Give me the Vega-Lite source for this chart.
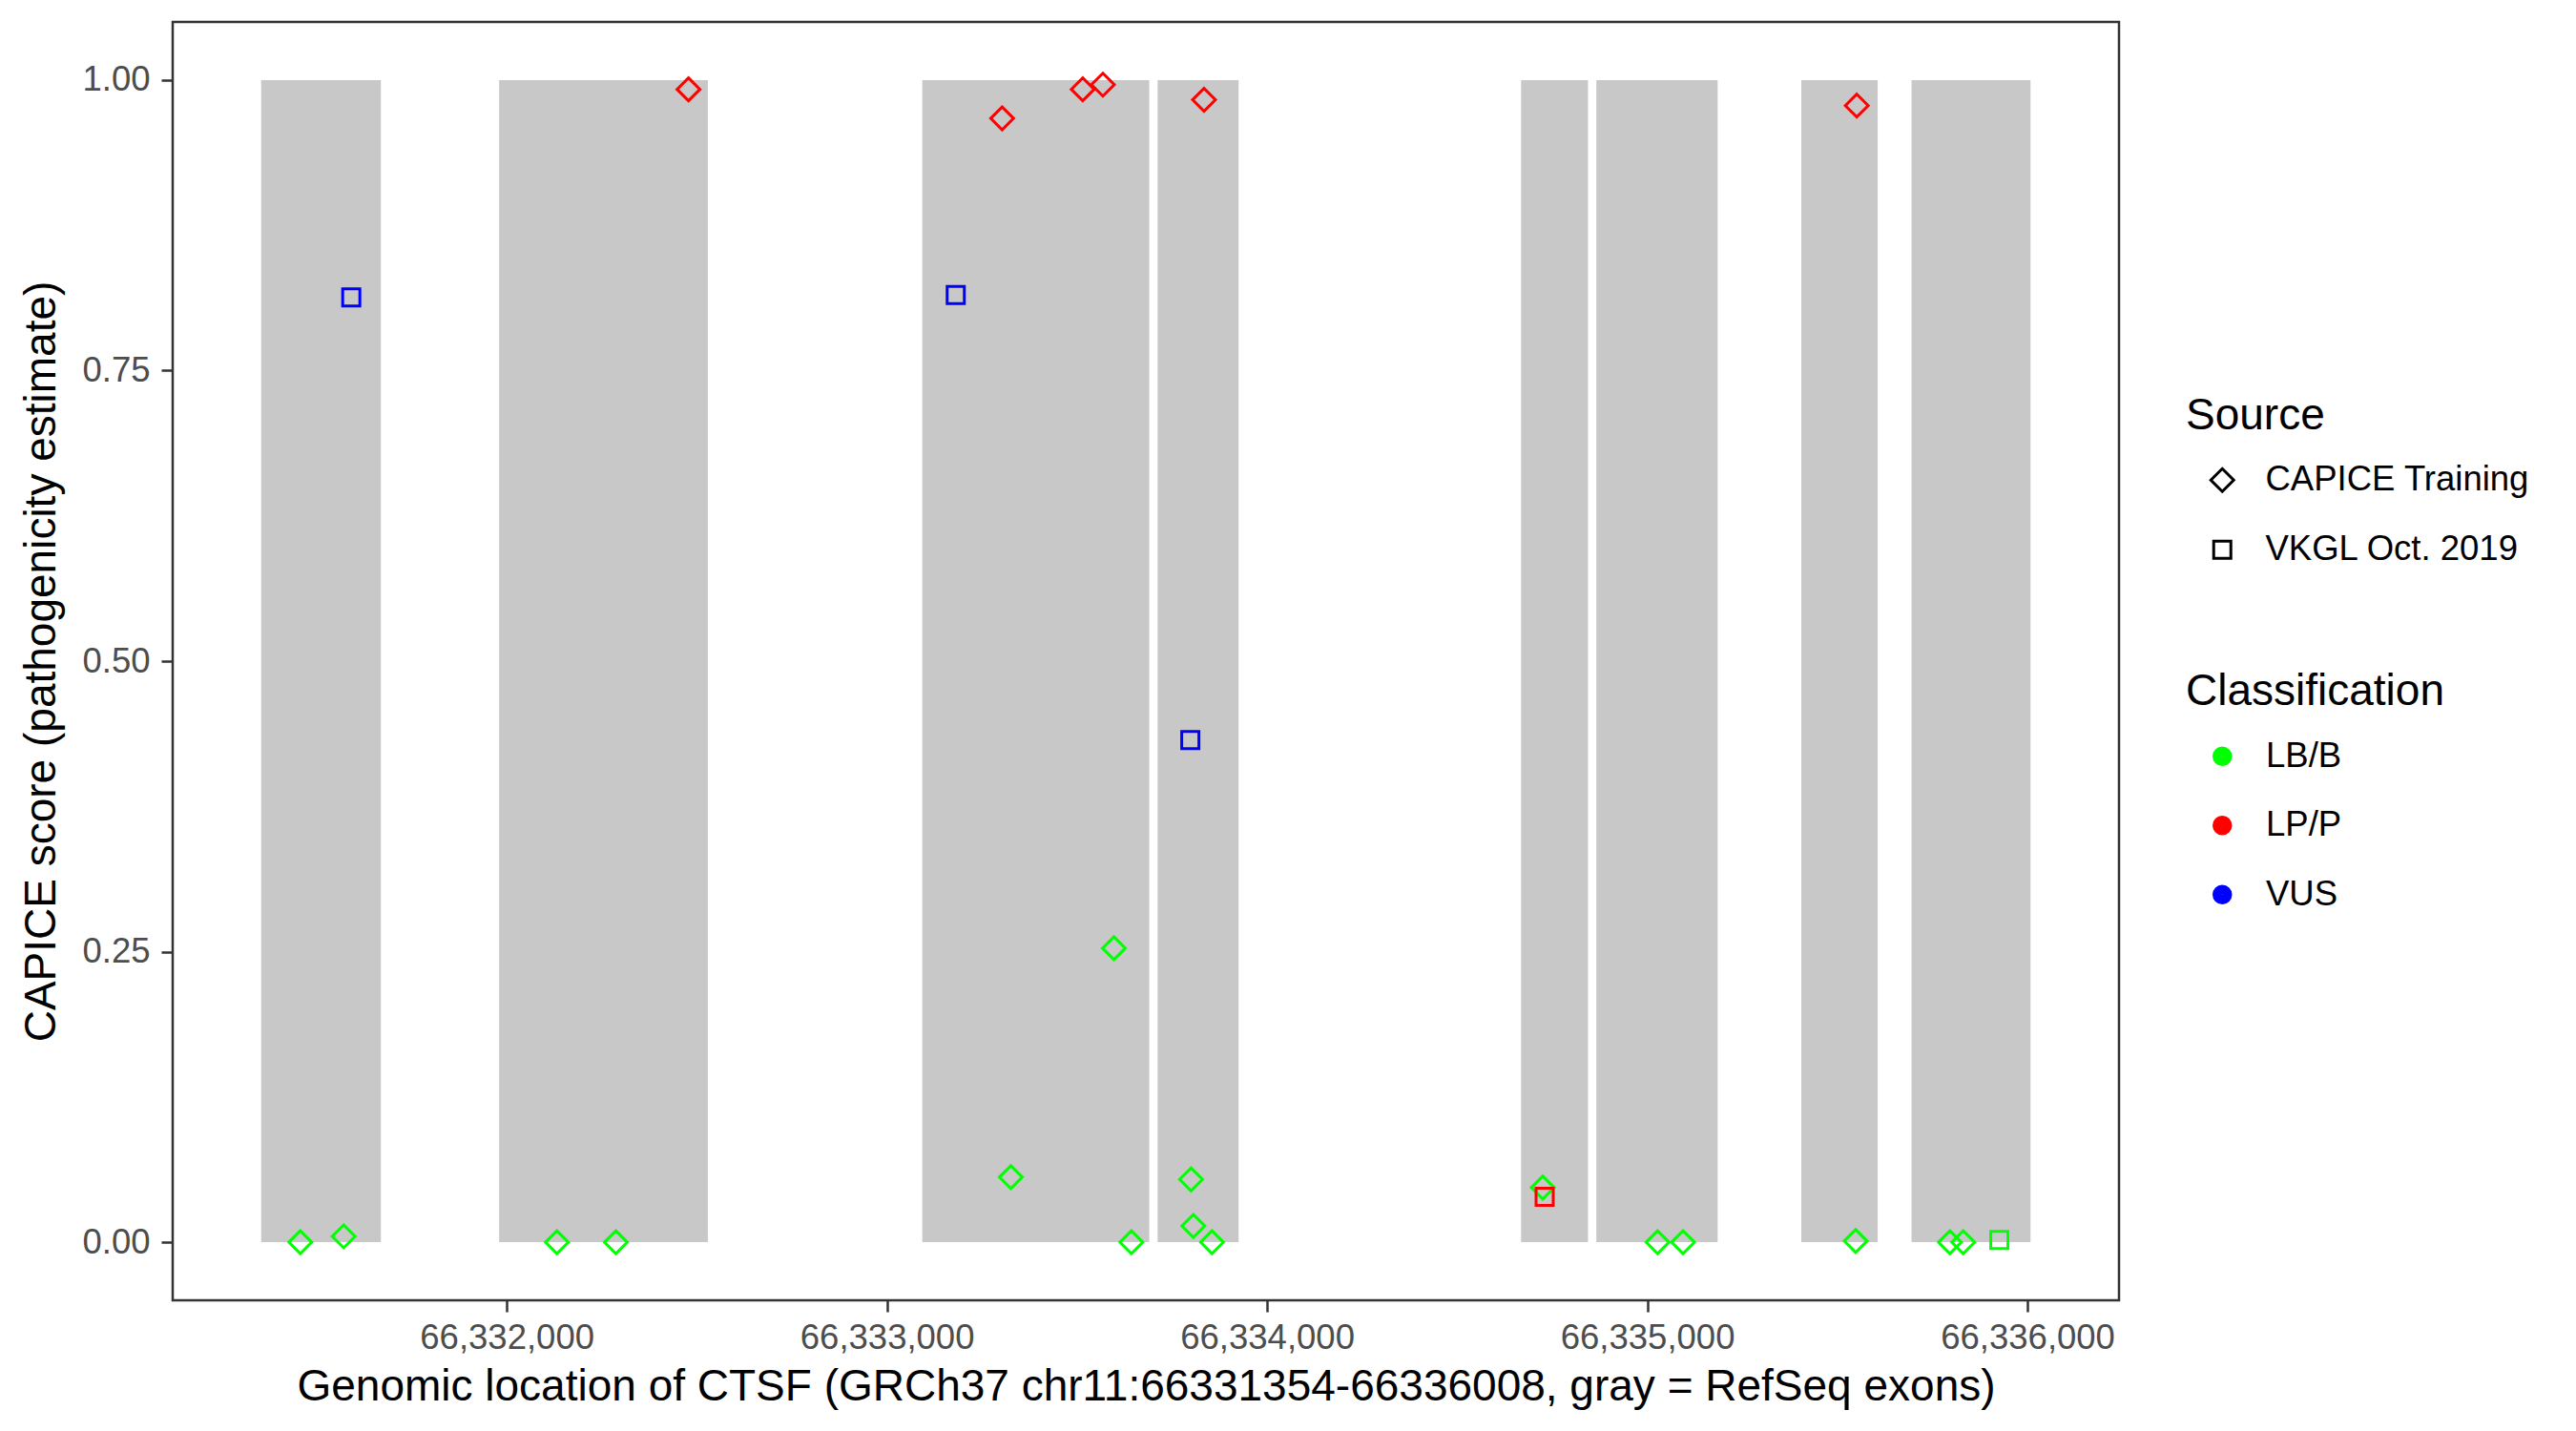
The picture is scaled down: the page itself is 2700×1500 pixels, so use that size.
{
  "$schema": "https://vega.github.io/schema/vega-lite/v6.json",
  "width": 2040,
  "height": 1340,
  "autosize": {"type": "none"},
  "padding": {"left": 181, "top": 23, "right": 479, "bottom": 137},
  "background": "white",
  "config": {
    "font": "Liberation Sans",
    "view": {"stroke": "#333333", "strokeWidth": 2.5},
    "axis": {
      "grid": false,
      "domain": false,
      "tickColor": "#333333",
      "tickWidth": 2.5,
      "tickSize": 12,
      "labelFont": "Liberation Sans",
      "labelFontSize": 36.5,
      "labelColor": "#4D4D4D",
      "labelLimit": 0,
      "titleFont": "Liberation Sans",
      "titleFontSize": 46,
      "titleColor": "black",
      "titleFontWeight": "normal",
      "titleLimit": 0
    },
    "legend": {
      "orient": "none",
      "padding": 0,
      "titleFont": "Liberation Sans",
      "titleFontSize": 46,
      "titleFontWeight": "normal",
      "titleColor": "black",
      "titleLimit": 0,
      "labelFont": "Liberation Sans",
      "labelFontSize": 36.5,
      "labelColor": "black",
      "labelLimit": 0,
      "titlePadding": 25,
      "rowPadding": 36
    }
  },
  "datasets": {
    "exons": [
      {"start": 66331354, "end": 66331669},
      {"start": 66331980, "end": 66332529},
      {"start": 66333093, "end": 66333690},
      {"start": 66333712, "end": 66333925},
      {"start": 66334668, "end": 66334844},
      {"start": 66334866, "end": 66335185},
      {"start": 66335405, "end": 66335606},
      {"start": 66335695, "end": 66336008}
    ],
    "variants": [
      {"pos": 66331457, "score": 0.000, "source": "CAPICE Training", "classification": "LB/B"},
      {"pos": 66331571, "score": 0.005, "source": "CAPICE Training", "classification": "LB/B"},
      {"pos": 66332132, "score": 0.000, "source": "CAPICE Training", "classification": "LB/B"},
      {"pos": 66332287, "score": 0.000, "source": "CAPICE Training", "classification": "LB/B"},
      {"pos": 66333326, "score": 0.056, "source": "CAPICE Training", "classification": "LB/B"},
      {"pos": 66333597, "score": 0.253, "source": "CAPICE Training", "classification": "LB/B"},
      {"pos": 66333643, "score": 0.000, "source": "CAPICE Training", "classification": "LB/B"},
      {"pos": 66333800, "score": 0.054, "source": "CAPICE Training", "classification": "LB/B"},
      {"pos": 66333806, "score": 0.014, "source": "CAPICE Training", "classification": "LB/B"},
      {"pos": 66333855, "score": 0.000, "source": "CAPICE Training", "classification": "LB/B"},
      {"pos": 66334725, "score": 0.047, "source": "CAPICE Training", "classification": "LB/B"},
      {"pos": 66335027, "score": 0.000, "source": "CAPICE Training", "classification": "LB/B"},
      {"pos": 66335094, "score": 0.000, "source": "CAPICE Training", "classification": "LB/B"},
      {"pos": 66335548, "score": 0.001, "source": "CAPICE Training", "classification": "LB/B"},
      {"pos": 66335796, "score": 0.000, "source": "CAPICE Training", "classification": "LB/B"},
      {"pos": 66335831, "score": 0.000, "source": "CAPICE Training", "classification": "LB/B"},
      {"pos": 66332478, "score": 0.992, "source": "CAPICE Training", "classification": "LP/P"},
      {"pos": 66333303, "score": 0.967, "source": "CAPICE Training", "classification": "LP/P"},
      {"pos": 66333515, "score": 0.992, "source": "CAPICE Training", "classification": "LP/P"},
      {"pos": 66333568, "score": 0.996, "source": "CAPICE Training", "classification": "LP/P"},
      {"pos": 66333834, "score": 0.983, "source": "CAPICE Training", "classification": "LP/P"},
      {"pos": 66335551, "score": 0.978, "source": "CAPICE Training", "classification": "LP/P"},
      {"pos": 66331591, "score": 0.813, "source": "VKGL Oct. 2019", "classification": "VUS"},
      {"pos": 66333181, "score": 0.815, "source": "VKGL Oct. 2019", "classification": "VUS"},
      {"pos": 66333798, "score": 0.432, "source": "VKGL Oct. 2019", "classification": "VUS"},
      {"pos": 66334730, "score": 0.039, "source": "VKGL Oct. 2019", "classification": "LP/P"},
      {"pos": 66335926, "score": 0.002, "source": "VKGL Oct. 2019", "classification": "LB/B"}
    ]
  },
  "layer": [
    {
      "data": {"name": "exons"},
      "mark": {"type": "rect", "color": "#C8C8C8"},
      "encoding": {
        "x": {
          "field": "start",
          "type": "quantitative",
          "scale": {"domain": [66331121.3, 66336240.7], "nice": false, "zero": false},
          "axis": {
            "title": "Genomic location of CTSF (GRCh37 chr11:66331354-66336008, gray = RefSeq exons)",
            "values": [66332000, 66333000, 66334000, 66335000, 66336000],
            "format": ",d",
            "labelPadding": 9,
            "titlePadding": 11,
            "labelFlush": false,
            "labelOverlap": false
          }
        },
        "x2": {"field": "end"},
        "y": {
          "datum": 0,
          "type": "quantitative",
          "scale": {"domain": [-0.05, 1.05], "nice": false, "zero": false},
          "axis": {
            "title": "CAPICE score (pathogenicity estimate)",
            "values": [0, 0.25, 0.5, 0.75, 1],
            "format": ".2f",
            "labelPadding": 12,
            "titlePadding": 18
          }
        },
        "y2": {"datum": 1}
      }
    },
    {
      "data": {"name": "variants"},
      "mark": {"type": "point", "filled": false, "strokeWidth": 3, "size": 324, "opacity": 1},
      "encoding": {
        "x": {"field": "pos", "type": "quantitative"},
        "y": {"field": "score", "type": "quantitative"},
        "shape": {
          "field": "source",
          "type": "nominal",
          "scale": {
            "domain": ["CAPICE Training", "VKGL Oct. 2019"],
            "range": ["M0,-1.33L1.33,0L0,1.33L-1.33,0Z", "M-1,-1L1,-1L1,1L-1,1Z"]
          },
          "legend": {
            "title": "Source",
            "legendX": 2110,
            "legendY": 391,
            "symbolSize": 324,
            "symbolOffset": 20,
            "labelOffset": 27,
            "symbolStrokeColor": "black",
            "symbolStrokeWidth": 3,
            "symbolFillColor": "transparent"
          }
        },
        "color": {
          "field": "classification",
          "type": "nominal",
          "scale": {"domain": ["LB/B", "LP/P", "VUS"], "range": ["#00FF00", "#FF0000", "#0000FF"]},
          "legend": {
            "title": "Classification",
            "legendX": 2110,
            "legendY": 680,
            "symbolType": "circle",
            "symbolSize": 110,
            "symbolStrokeWidth": 10,
            "symbolOffset": 20,
            "labelOffset": 27.5,
            "titlePadding": 25.5,
            "rowPadding": 21.5
          }
        }
      }
    }
  ]
}
